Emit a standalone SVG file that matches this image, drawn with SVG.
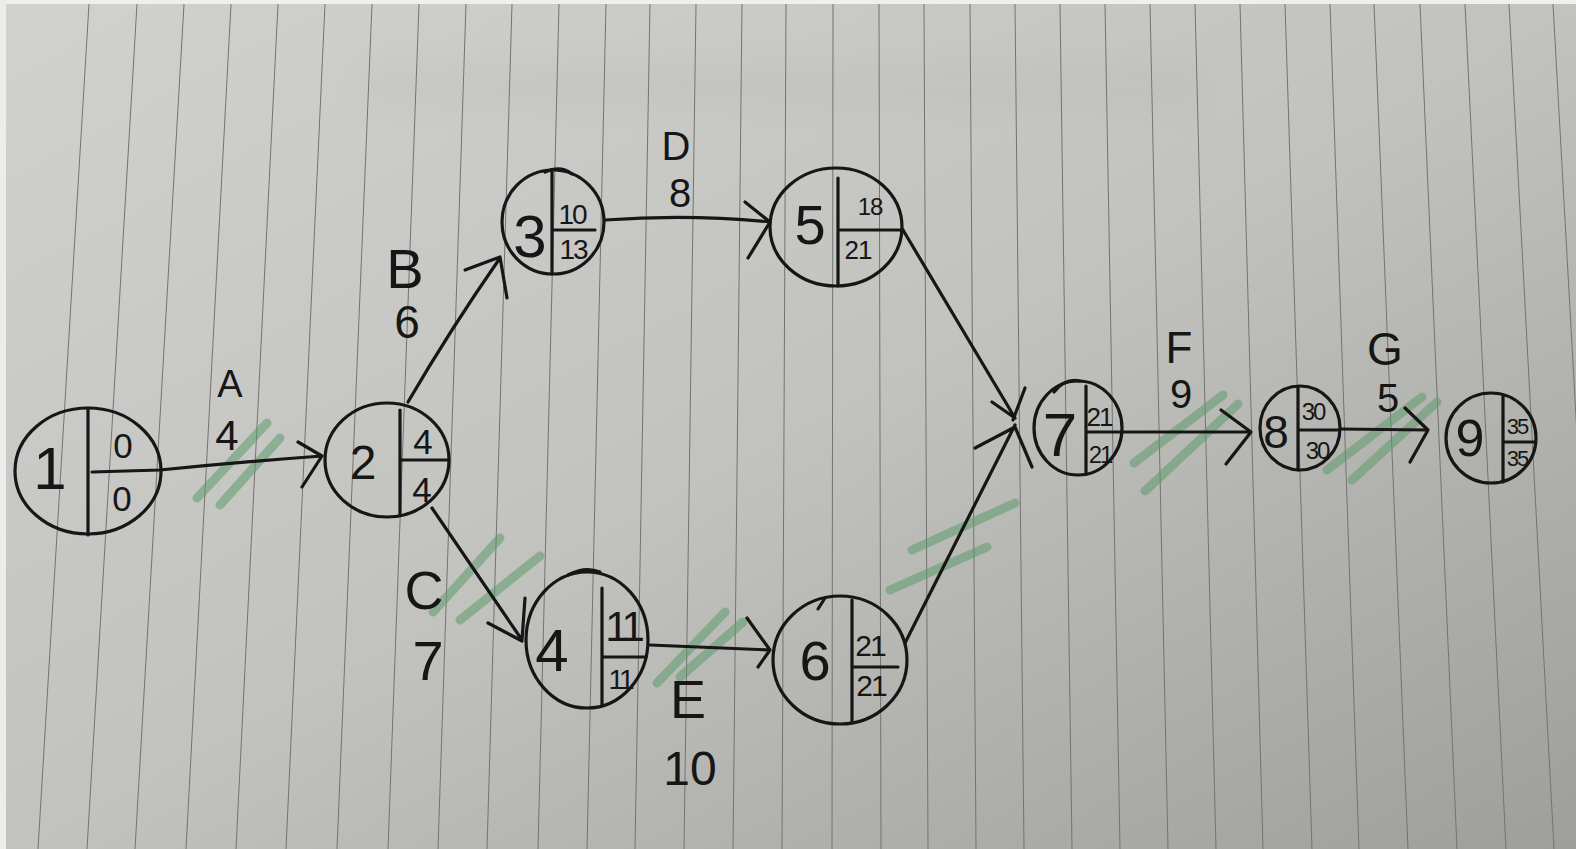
<svg xmlns="http://www.w3.org/2000/svg" width="1576" height="849" viewBox="0 0 1576 849">
<defs>
<linearGradient id="paper" x1="0" y1="0" x2="1" y2="1">
<stop offset="0" stop-color="#d1d1cf"/>
<stop offset="0.5" stop-color="#c2c2bf"/>
<stop offset="1" stop-color="#9e9e9a"/>
</linearGradient>
<filter id="soft" x="-20%" y="-50%" width="140%" height="200%"><feGaussianBlur stdDeviation="14"/></filter>
</defs>
<style>
.rule{stroke:#737371;stroke-width:1;fill:none}
.ink{stroke:#161616;stroke-width:3.2;fill:none;stroke-linecap:round;stroke-linejoin:round}
.hl{stroke:#5d9a6c;stroke-width:9;stroke-linecap:round;opacity:0.55;fill:none}
text{font-family:"Liberation Sans","DejaVu Sans",sans-serif;fill:#161616;text-anchor:middle;dominant-baseline:central}
</style>
<rect width="1576" height="849" fill="url(#paper)"/>
<rect x="360" y="60" width="840" height="50" fill="#9a9a96" opacity="0.08" filter="url(#soft)"/>
<rect x="0" y="0" width="1576" height="4" fill="#efefee"/>
<rect x="0" y="0" width="6" height="849" fill="#ececeb"/>
<g id="rules">
<path class="rule" d="M89,4L38,849M137,4L87,849M184,4L135,849M231,4L186,849M278,4L236,849M325,4L286,849M372,4L337,849M419,4L388,849M466,4L438,849M512,4L487,849M559,4L538,849M606,4L587,849M650,4L635,849M696,4L684,849M742,4L733,849M786,4L782,849M833,4L832,849M879,4L881,849M924,4L928,849M970,4L976,849M1015,4L1024,849M1060,4L1072,849M1105,4L1120,849M1150,4L1168,849M1195,4L1216,849M1240,4L1263,849M1285,4L1312,849M1330,4L1359,849M1374,4L1408,849M1420,4L1457,849M1465,4L1506,849M1509,4L1554,849M1553,4L1600,849"/>
</g>
<g id="highlights">
<path class="hl" d="M197,498L267,423M220,505L280,438"/>
<path class="hl" d="M433,612L500,538M460,620L540,556"/>
<path class="hl" d="M657,683L725,612M680,677L743,622"/>
<path class="hl" d="M912,550L1015,503M890,590L987,547"/>
<path class="hl" d="M1134,463L1223,395M1145,491L1238,404"/>
<path class="hl" d="M1327,470L1422,397M1352,480L1437,402"/>
</g>
<g id="connectors">
<path class="ink" d="M92,472L160,470Q240,462 322,456M298,442L322,456L302,487"/>
<path class="ink" d="M408,402Q450,330 500,258M465,270L500,257L507,298"/>
<path class="ink" d="M432,508L522,640M488,623L522,641M525,598L522,640"/>
<path class="ink" d="M605,220Q690,214 770,222M745,202L770,222L748,258"/>
<path class="ink" d="M650,645L770,650M747,618L770,650L758,667"/>
<path class="ink" d="M903,230L1015,418M992,402L1015,418M1025,388L1013,420"/>
<path class="ink" d="M905,643L1015,425M975,448L1015,427M1032,467L1015,427"/>
<path class="ink" d="M1122,432L1250,432M1221,410L1251,432L1226,464"/>
<path class="ink" d="M1340,429L1428,430M1405,408L1428,430L1410,462"/>
</g>
<g id="labels">
<text x="230" y="384" font-size="38">A</text>
<text x="227" y="435" font-size="42">4</text>
<text x="405" y="268" font-size="56">B</text>
<text x="407" y="322" font-size="46">6</text>
<text x="424" y="590" font-size="54">C</text>
<text x="428" y="660" font-size="56">7</text>
<text x="676" y="146" font-size="40">D</text>
<text x="680" y="193" font-size="40">8</text>
<text x="688" y="699" font-size="54">E</text>
<text x="690" y="768" font-size="48">10</text>
<text x="1179" y="347" font-size="44">F</text>
<text x="1181" y="394" font-size="40">9</text>
<text x="1385" y="349" font-size="46">G</text>
<text x="1388" y="398" font-size="40">5</text>
</g>
<g id="node1">
<ellipse class="ink" cx="88" cy="471" rx="73" ry="63"/>
<path class="ink" d="M88,408L88,535"/>
<text x="50" y="468" font-size="60">1</text>
<text x="123" y="445" font-size="35">0</text>
<text x="122" y="498" font-size="35">0</text>
</g>
<g id="node2">
<ellipse class="ink" cx="387" cy="460" rx="62" ry="57"/>
<path class="ink" d="M400,410L400,515M400,460L447,460"/>
<text x="363" y="462" font-size="48">2</text>
<text x="423" y="441" font-size="35">4</text>
<text x="422" y="489" font-size="35">4</text>
</g>
<g id="node3">
<ellipse class="ink" cx="553" cy="222" rx="51" ry="52"/>
<path class="ink" d="M545,172Q560,165 572,174M552,172L552,274M552,230L595,230"/>
<text x="530" y="236" font-size="60">3</text>
<text x="572" y="214" font-size="28" letter-spacing="-2">10</text>
<text x="573" y="249" font-size="28" letter-spacing="-2">13</text>
</g>
<g id="node5">
<ellipse class="ink" cx="836" cy="227" rx="66" ry="59"/>
<path class="ink" d="M838,178L838,286M838,230L903,230"/>
<text x="810" y="224" font-size="56">5</text>
<text x="870" y="206" font-size="24" letter-spacing="-1">18</text>
<text x="858" y="250" font-size="26" letter-spacing="-1">21</text>
</g>
<g id="node4">
<ellipse class="ink" cx="587" cy="640" rx="61" ry="68"/>
<path class="ink" d="M568,575Q585,566 600,572M602,588L602,706M602,657L646,657"/>
<text x="552" y="650" font-size="60">4</text>
<text x="623" y="626" font-size="42" letter-spacing="-4">11</text>
<text x="620" y="679" font-size="28" letter-spacing="-3">11</text>
</g>
<g id="node6">
<ellipse class="ink" cx="840" cy="660" rx="67" ry="64"/>
<path class="ink" d="M818,609L825,598M852,600L852,722M852,667L898,667"/>
<text x="815" y="660" font-size="56">6</text>
<text x="870" y="645" font-size="30" letter-spacing="-2">21</text>
<text x="871" y="685" font-size="30" letter-spacing="-2">21</text>
</g>
<g id="node7">
<ellipse class="ink" cx="1078" cy="428" rx="44" ry="47"/>
<path class="ink" d="M1054,392Q1065,378 1080,381M1086,386L1086,474M1086,432L1120,432"/>
<text x="1060" y="434" font-size="62">7</text>
<text x="1099" y="417" font-size="26" letter-spacing="-2">21</text>
<text x="1100" y="454" font-size="24" letter-spacing="-2">21</text>
</g>
<g id="node8">
<ellipse class="ink" cx="1300" cy="428" rx="40" ry="42"/>
<path class="ink" d="M1298,388L1298,470M1298,430L1339,430"/>
<text x="1276" y="432" font-size="46">8</text>
<text x="1313" y="411" font-size="24" letter-spacing="-2">30</text>
<text x="1317" y="450" font-size="24" letter-spacing="-2">30</text>
</g>
<g id="node9">
<ellipse class="ink" cx="1491" cy="438" rx="45" ry="45"/>
<path class="ink" d="M1503,396L1503,482M1503,442L1534,442"/>
<text x="1470" y="438" font-size="52">9</text>
<text x="1517" y="426" font-size="22" letter-spacing="-2">35</text>
<text x="1517" y="458" font-size="22" letter-spacing="-2">35</text>
</g>
</svg>
